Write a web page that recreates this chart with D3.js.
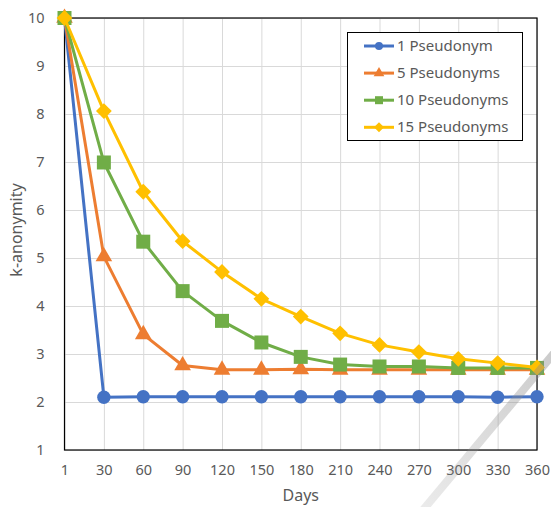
<!DOCTYPE html>
<html>
<head>
<meta charset="utf-8">
<script src="https://cdn.jsdelivr.net/npm/d3@7"></script>
<style>
  body { margin: 0; background: #fff; }
  text { font-family: "Noto Sans", "Open Sans", sans-serif; fill: #595959; }
</style>
</head>
<body>
<svg id="chart"></svg>
<script>
// chart values
const days = ['1', '30', '60', '90', '120', '150', '180', '210', '240', '270', '300', '330', '360'];
const yTicks = [1, 2, 3, 4, 5, 6, 7, 8, 9, 10];
const seriesNames = ['1 Pseudonym', '5 Pseudonyms', '10 Pseudonyms', '15 Pseudonyms'];
const pseudo1  = [10, 2.10, 2.11, 2.11, 2.11, 2.11, 2.11, 2.11, 2.11, 2.11, 2.11, 2.10, 2.11];
const pseudo5  = [10, 5.03, 3.41, 2.76, 2.67, 2.67, 2.68, 2.67, 2.67, 2.67, 2.67, 2.67, 2.67];
const pseudo10 = [10, 6.99, 5.34, 4.31, 3.69, 3.24, 2.94, 2.78, 2.74, 2.74, 2.71, 2.71, 2.71];
const pseudo15 = [10, 8.06, 6.38, 5.35, 4.71, 4.15, 3.78, 3.43, 3.19, 3.04, 2.90, 2.81, 2.72];

const width = 551, height = 507;
const margin = {top: 18, right: 14, bottom: 57, left: 64.5};

const colors = ['#4472C4', '#ED7D31', '#70AD47', '#FFC000'];
const symbols = [d3.symbolCircle, d3.symbolTriangle, d3.symbolSquare, d3.symbolSquare];
const sizes = [140, 120, 196, 125];
const rotations = [0, 0, 0, 45];

const allSeries = [pseudo1, pseudo5, pseudo10, pseudo15];

const svg = d3.select('#chart')
    .attr('width', width)
    .attr('height', height);

const x = d3.scalePoint()
    .domain(days)
    .range([margin.left, width - margin.right]);

const y = d3.scaleLinear()
    .domain([1, 10])
    .range([height - margin.bottom, margin.top]);

// gridlines
svg.append('g')
    .attr('transform', `translate(0,${margin.top})`)
    .call(d3.axisBottom(x).tickSize(height - margin.bottom - margin.top).tickFormat(''))
    .call(g => g.select('.domain').remove())
    .call(g => g.selectAll('line').attr('stroke', '#d9d9d9'));

svg.append('g')
    .attr('transform', `translate(${margin.left},0)`)
    .call(d3.axisRight(y).tickValues(yTicks).tickSize(width - margin.right - margin.left).tickFormat(''))
    .call(g => g.select('.domain').remove())
    .call(g => g.selectAll('line').attr('stroke', '#d9d9d9'));

// plot border
svg.append('rect')
    .attr('x', margin.left)
    .attr('y', margin.top)
    .attr('width', width - margin.right - margin.left)
    .attr('height', height - margin.bottom - margin.top)
    .attr('fill', 'none')
    .attr('stroke', '#000')
    .attr('stroke-width', 1.2);

// axis labels
svg.append('g')
    .attr('transform', `translate(0,${height - margin.bottom + 12})`)
    .call(d3.axisBottom(x).tickSize(0))
    .call(g => g.select('.domain').remove())
    .call(g => g.selectAll('text').style('font-size', '14.5px').attr('fill', '#595959'));

svg.append('g')
    .attr('transform', `translate(${margin.left - 17},0)`)
    .call(d3.axisLeft(y).tickValues(yTicks).tickSize(0))
    .call(g => g.select('.domain').remove())
    .call(g => g.selectAll('text').style('font-size', '14.5px').attr('fill', '#595959'));

svg.append('text')
    .attr('x', (margin.left + width - margin.right) / 2)
    .attr('y', 501)
    .attr('text-anchor', 'middle')
    .style('font-size', '16px')
    .text('Days');

svg.append('text')
    .attr('transform', `translate(22,${(margin.top + height - margin.bottom) / 2 - 4}) rotate(-90)`)
    .attr('text-anchor', 'middle')
    .style('font-size', '16px')
    .text('k-anonymity');

// series
const line = d3.line()
    .x((d, i) => x(days[i]))
    .y(d => y(d));

allSeries.forEach((vals, s) => {
  const g = svg.append('g').attr('class', 'series');
  g.append('path')
      .datum(vals)
      .attr('d', line)
      .attr('fill', 'none')
      .attr('stroke', colors[s])
      .attr('stroke-width', 3)
      .attr('stroke-linejoin', 'round');
  g.selectAll('.marker')
      .data(vals)
    .join('path')
      .attr('class', 'marker')
      .attr('d', d3.symbol().type(symbols[s]).size(sizes[s]))
      .attr('transform', (d, i) => `translate(${x(days[i])},${y(d)}) rotate(${rotations[s]})`)
      .attr('fill', colors[s]);
});

// legend
const legend = svg.append('g');
legend.append('rect')
    .attr('x', 347.5)
    .attr('y', 32.5)
    .attr('width', 175)
    .attr('height', 108)
    .attr('fill', '#fff')
    .attr('stroke', '#000')
    .attr('stroke-width', 1);

const legendSizes = [50, 50, 64, 50];
seriesNames.forEach((name, s) => {
  const ly = 46 + s * 27.1;
  legend.append('line')
      .attr('x1', 364).attr('x2', 394)
      .attr('y1', ly).attr('y2', ly)
      .attr('stroke', colors[s])
      .attr('stroke-width', 3);
  legend.append('path')
      .attr('d', d3.symbol().type(symbols[s]).size(legendSizes[s]))
      .attr('transform', `translate(379,${ly}) rotate(${rotations[s]})`)
      .attr('fill', colors[s]);
  legend.append('text')
      .attr('x', 397)
      .attr('y', ly + 5)
      .style('font-size', '15px')
      .text(name);
});

// grey diagonal stroke across the lower right corner
const grad = svg.append('defs').append('linearGradient')
    .attr('id', 'fade')
    .attr('gradientUnits', 'userSpaceOnUse')
    .attr('x1', 555).attr('y1', 352).attr('x2', 425).attr('y2', 507);
grad.append('stop').attr('offset', 0).attr('stop-color', '#8c8c8c').attr('stop-opacity', 0.45);
grad.append('stop').attr('offset', 1).attr('stop-color', '#8c8c8c').attr('stop-opacity', 0.18);

svg.append('line')
    .attr('x1', 560).attr('y1', 346)
    .attr('x2', 423).attr('y2', 510)
    .attr('stroke', 'url(#fade)')
    .attr('stroke-width', 8);
</script>
</body>
</html>
